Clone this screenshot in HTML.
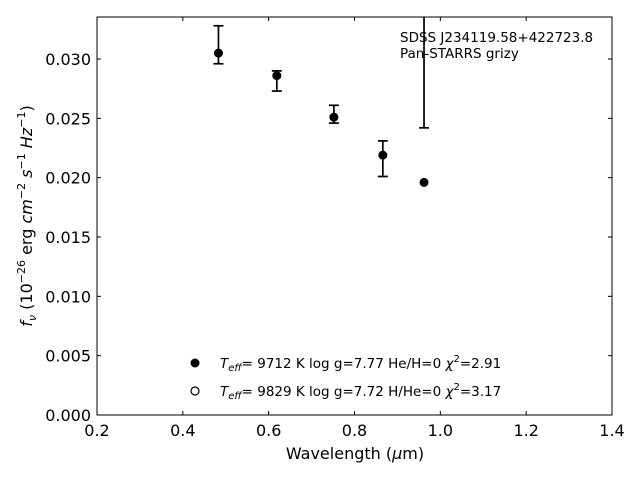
<!DOCTYPE html>
<html><head><meta charset="utf-8"><style>
html,body{margin:0;padding:0;background:#fff;}
svg{display:block;font-family:"DejaVu Sans","Liberation Sans",sans-serif;}
</style></head><body>
<svg id="chart" width="640" height="480"></svg>
<script>
const wavelengths=[0.483,0.619,0.752,0.866,0.962];
const fluxes=[0.0305,0.0286,0.0251,0.0219,0.0196];
const errHigh=[0.0328,0.0290,0.0261,0.0231,0.0400];
const errLow=[0.0296,0.0273,0.0246,0.0201,0.0242];
const xTicks=[0.2,0.4,0.6,0.8,1.0,1.2,1.4];
const yTicks=[0,0.005,0.010,0.015,0.020,0.025,0.030];
const yTickLabels=["0.000","0.005","0.010","0.015","0.020","0.025","0.030"];
const L=97,R=612,T=17,B=415,XMIN=0.2,XMAX=1.4,YMAX=0.03354;
const sx=v=>L+(v-XMIN)/(XMAX-XMIN)*(R-L);
const sy=v=>B-v/YMAX*(B-T);
const svg=document.getElementById('chart');
const NS='http://www.w3.org/2000/svg';
function mk(tag,attrs,parent){const e=document.createElementNS(NS,tag);for(const k in attrs)e.setAttribute(k,attrs[k]);(parent||svg).appendChild(e);return e;}
const defs=mk('defs',{});
const cp=mk('clipPath',{id:'clip'},defs);
mk('rect',{x:L,y:T,width:R-L,height:B-T},cp);
// ticks
xTicks.forEach((v,i)=>{
  const x=sx(v);
  const t1=mk('line',{x1:x,x2:x,y1:B,y2:B-4,stroke:'#000'});
  
  
  const t2=mk('line',{x1:x,x2:x,y1:T,y2:T+4,stroke:'#000'});
  
  
  const tx=mk('text',{x:x,y:B+21,'text-anchor':'middle','font-size':16});
  tx.textContent=v.toFixed(1);
  
  
});
yTicks.forEach((v,i)=>{
  const y=sy(v);
  const t1=mk('line',{x1:L,x2:L+4,y1:y,y2:y,stroke:'#000'});
  
  
  const t2=mk('line',{x1:R,x2:R-4,y1:y,y2:y,stroke:'#000'});
  
  
  const tx=mk('text',{x:L-6,y:y+6,'text-anchor':'end','font-size':16});
  tx.textContent=yTickLabels[i];
  
  
});
const g=mk('g',{'clip-path':'url(#clip)'});


wavelengths.forEach((w,i)=>{
  const x=sx(w);
  const eb=mk('line',{x1:x,x2:x,y1:sy(errHigh[i]),y2:sy(errLow[i]),stroke:'#000','stroke-width':1.7},g);
  
  
  [errHigh[i],errLow[i]].forEach(e=>{
    const c=mk('line',{x1:x-5,x2:x+5,y1:sy(e),y2:sy(e),stroke:'#000','stroke-width':1.7},g);
    
    
  });
  const pt=mk('circle',{cx:x,cy:sy(fluxes[i]),r:4.5,fill:'#000'},g);
  
  
});
</script>
<svg width="640" height="480" style="position:absolute;left:0;top:0">
<rect x="97" y="17" width="515" height="398" fill="none" stroke="#000" stroke-width="1"/>
<text x="400" y="42" font-size="13.5" font-family="DejaVu Sans,Liberation Sans,sans-serif">SDSS J234119.58+422723.8</text>
<text x="400" y="58" font-size="13.5" font-family="DejaVu Sans,Liberation Sans,sans-serif">Pan-STARRS grizy</text>
<g font-family="DejaVu Sans,Liberation Sans,sans-serif" font-size="13.5">
<circle cx="195" cy="363" r="4.5" fill="#000"/>
<text x="220" y="368"><tspan font-style="italic">T</tspan><tspan font-style="italic" font-size="10" dy="3">eff</tspan><tspan dy="-3">=  9712 K  log g=7.77  He/H=0  </tspan><tspan font-style="italic">χ</tspan><tspan font-size="10" dy="-6">2</tspan><tspan dy="6">=2.91</tspan></text>
<circle cx="195" cy="391" r="4" fill="#fff" stroke="#000" stroke-width="1.2"/>
<text x="220" y="396"><tspan font-style="italic">T</tspan><tspan font-style="italic" font-size="10" dy="3">eff</tspan><tspan dy="-3">=  9829 K  log g=7.72  H/He=0  </tspan><tspan font-style="italic">χ</tspan><tspan font-size="10" dy="-6">2</tspan><tspan dy="6">=3.17</tspan></text>
</g>
<text x="355" y="459" text-anchor="middle" font-size="16" font-family="DejaVu Sans,Liberation Sans,sans-serif">Wavelength (<tspan font-style="italic">μ</tspan>m)</text>
<text transform="translate(32,216) rotate(-90)" text-anchor="middle" font-size="16" font-family="DejaVu Sans,Liberation Sans,sans-serif"><tspan font-style="italic">f</tspan><tspan font-style="italic" font-size="11" dy="4">ν</tspan><tspan dy="-4"> (10</tspan><tspan font-size="11" dy="-7">−26</tspan><tspan dy="7"> erg </tspan><tspan font-style="italic">cm</tspan><tspan font-size="11" dy="-7">−2</tspan><tspan dy="7" font-style="italic"> s</tspan><tspan font-size="11" dy="-7">−1</tspan><tspan dy="7" font-style="italic"> Hz</tspan><tspan font-size="11" dy="-7">−1</tspan><tspan dy="7">)</tspan></text>
</svg>
</body></html>
